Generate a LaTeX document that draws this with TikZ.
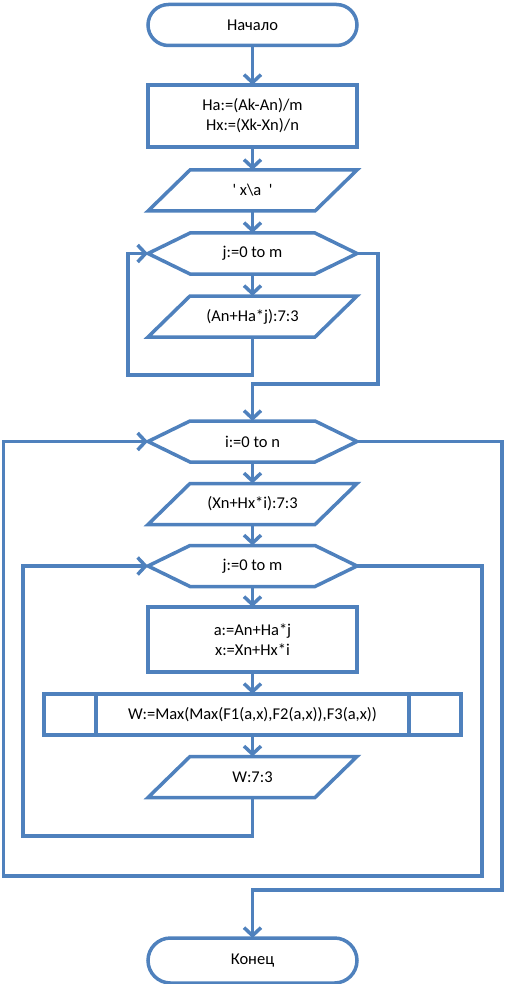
\documentclass[tikz,border=0pt]{standalone}
\usepackage{fontspec}
\newfontfamily\calfont{Carlito}
\usetikzlibrary{arrows.meta,shapes.misc}
\definecolor{fcblue}{RGB}{79,129,189}
\begin{document}
\begin{tikzpicture}[x=1pt,y=-1pt,
  every node/.style={font=\calfont\fontsize{16.5}{20}\selectfont, inner sep=0pt, outer sep=0pt, align=center, text=black},
  fcline/.style={draw=fcblue, line width=3.5pt},
  term/.style={fcline, rounded rectangle, minimum width=209pt, minimum height=41pt},
  proc/.style={fcline, rectangle, minimum width=209pt},
  slot/.style={rectangle, minimum width=209pt, minimum height=41pt},
  conn/.style={draw=fcblue, line width=3.5pt},
  arr/.style={conn, -{Straight Barb[length=8pt,width=17pt]}},
]
\useasboundingbox (0,0) rectangle (505,984);

\node[term] (start) at (252.5,25) {Начало};
\node[proc, minimum height=62pt] (p1) at (252.5,116) {Ha:=(Ak-An)/m\\Hx:=(Xk-Xn)/n};
\node[slot] (in1) at (252.5,190.5) {\symbol{39} x\textbackslash a\ \ \symbol{39}};
\node[slot] (h1) at (252.5,253.5) {j:=0 to m};
\node[slot] (o1) at (252.5,316.5) {(An+Ha*j):7:3};
\node[slot] (h2) at (252.5,441.5) {i:=0 to n};
\node[slot] (o2) at (252.5,504) {(Xn+Hx*i):7:3};
\node[slot] (h3) at (252.5,566) {j:=0 to m};
\node[proc, minimum height=65pt] (p2) at (252.5,639.5) {a:=An+Ha*j\\x:=Xn+Hx*i};
\node[proc, minimum width=417pt, minimum height=41pt] (pp) at (252.5,714.5) {W:=Max(Max(F1(a,x),F2(a,x)),F3(a,x))};
\node[slot] (o3) at (252.5,777) {W:7:3};
\node[term, minimum height=45pt] (end) at (252.5,960.5) {Конец};

% shapes
\foreach \n in {h1,h2,h3}
  \draw[fcline] (\n.west) -- ([xshift=42pt]\n.north west) -- ([xshift=-42pt]\n.north east) -- (\n.east) -- ([xshift=-42pt]\n.south east) -- ([xshift=42pt]\n.south west) -- cycle;
\foreach \n in {in1,o1,o2,o3}
  \draw[fcline] (\n.south west) -- ([xshift=42pt]\n.north west) -- (\n.north east) -- ([xshift=-42pt]\n.south east) -- cycle;
\draw[fcline] ([xshift=52pt]pp.north west) -- ([xshift=52pt]pp.south west)
              ([xshift=-52pt]pp.north east) -- ([xshift=-52pt]pp.south east);

% connectors
\draw[arr] (start.south) -- (p1.north);
\draw[arr] (p1.south) -- (in1.north);
\draw[arr] (in1.south) -- (h1.north);
\draw[arr] (h1.south) -- (o1.north);
\draw[arr] (o1.south) -- (252.5,375) -| (128,253.5) -- (h1.west);
\draw[arr] (h1.east) -| (378,384) -| (h2.north);
\draw[arr] (h2.south) -- (o2.north);
\draw[arr] (o2.south) -- (h3.north);
\draw[arr] (h3.south) -- (p2.north);
\draw[arr] (p2.south) -- (pp.north);
\draw[arr] (pp.south) -- (o3.north);
\draw[arr] (o3.south) -- (252.5,836) -| (23,566) -- (h3.west);
\draw[arr] (h3.east) -| (482,876) -| (3.5,441.5) -- (h2.west);
\draw[arr] (h2.east) -| (502,890) -| (end.north);
\end{tikzpicture}
\end{document}
